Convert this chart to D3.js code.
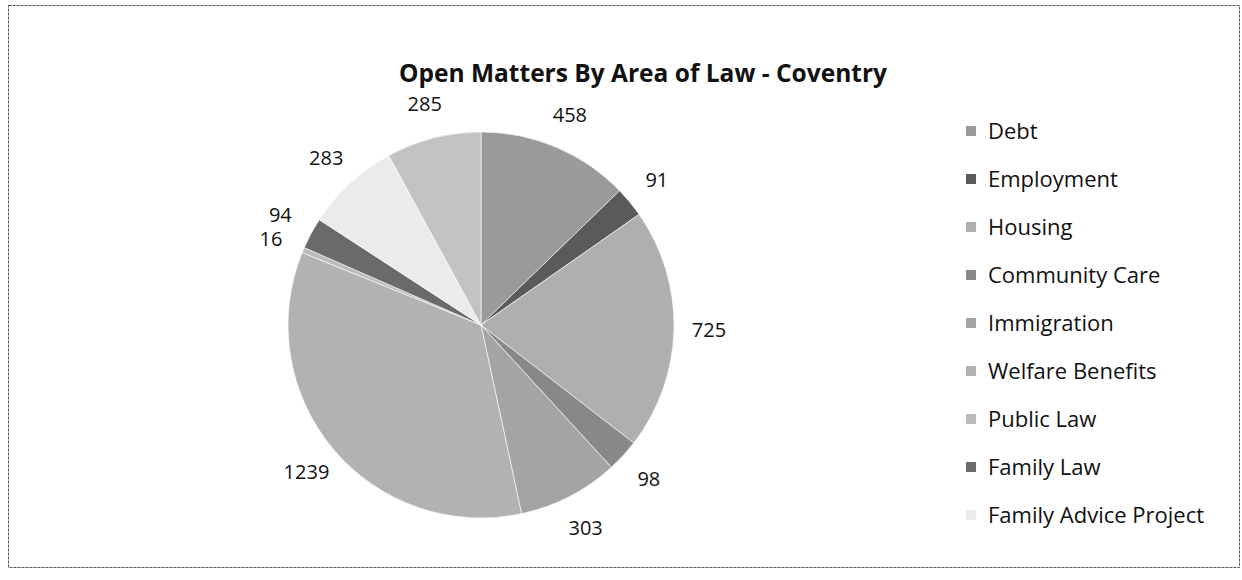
<!DOCTYPE html>
<html>
<head>
<meta charset="utf-8">
<script src="https://cdn.jsdelivr.net/npm/d3@7"></script>
<style>
  body { margin: 0; background: #fff; }
  text { font-family: "Open Sans", "Noto Sans", sans-serif; fill: #111; }
</style>
</head>
<body>
<script>
// pie of open matters, slices clockwise from 12 o'clock (Excel style)
const categories = ["Debt", "Employment", "Housing", "Community Care", "Immigration",
  "Welfare Benefits", "Public Law", "Family Law", "Family Advice Project", "Other"];
const values = [458, 91, 725, 98, 303, 1239, 16, 94, 283, 285];
const legendCount = 9; // last entry is cut off in the original legend
const greys = ["#9a9a9a", "#5a5a5a", "#afafaf", "#888888", "#a4a4a4",
  "#b2b2b2", "#bbbbbb", "#6a6a6a", "#ebebeb", "#c2c2c2"];

const width = 1242, height = 580;
const cx = 481, cy = 325, radius = 193;

const svg = d3.select("body").append("svg")
  .attr("width", width)
  .attr("height", height);

// chart frame
svg.append("rect")
  .attr("x", 8.5).attr("y", 5.5)
  .attr("width", 1231).attr("height", 562)
  .attr("fill", "none")
  .attr("stroke", "#555")
  .attr("stroke-width", 1)
  .attr("stroke-dasharray", "3 1");

svg.append("text")
  .attr("x", 643).attr("y", 82)
  .attr("text-anchor", "middle")
  .attr("font-size", "24.5px")
  .attr("font-weight", "bold")
  .text("Open Matters By Area of Law - Coventry");

const data = categories.map((c, i) => ({ name: c, value: values[i], color: greys[i] }));

const pie = d3.pie().value(d => d.value).sort(null);
const arcs = pie(data);
const arc = d3.arc().innerRadius(0).outerRadius(radius);
const labelArc = d3.arc().innerRadius(radius + 35).outerRadius(radius + 35);

const g = svg.append("g").attr("transform", `translate(${cx},${cy})`);

g.selectAll("path.slice")
  .data(arcs)
  .join("path")
  .attr("class", "slice")
  .attr("d", arc)
  .attr("fill", d => d.data.color)
  .attr("stroke", "#fff")
  .attr("stroke-width", 0.6);

// label positions, nudged apart when two small slices sit side by side
const labels = arcs.map(d => {
  const [x, y] = labelArc.centroid(d);
  return { d, x, y };
});
const minGap = 24;
for (let i = 1; i < labels.length; i++) {
  const a = labels[i - 1], b = labels[i];
  const dy = Math.abs(a.y - b.y);
  if (Math.abs(a.x - b.x) < 34 && dy < minGap) {
    const shift = (minGap - dy) / 2;
    if (a.y > b.y) { a.y += shift; b.y -= shift; } else { a.y -= shift; b.y += shift; }
  }
}

g.selectAll("text.val")
  .data(labels)
  .join("text")
  .attr("class", "val")
  .attr("x", l => l.x)
  .attr("y", l => l.y)
  .attr("text-anchor", "middle")
  .attr("dy", "0.35em")
  .attr("font-size", "20px")
  .text(l => l.d.data.value);

// legend
const legend = svg.append("g").attr("transform", "translate(966,131)");
const rows = legend.selectAll("g")
  .data(data.slice(0, legendCount))
  .join("g")
  .attr("transform", (d, i) => `translate(0,${i * 48})`);

rows.append("rect")
  .attr("x", 0).attr("y", -5)
  .attr("width", 10).attr("height", 10)
  .attr("fill", d => d.color);

rows.append("text")
  .attr("x", 22)
  .attr("dy", "0.35em")
  .attr("font-size", "22px")
  .text(d => d.name);
</script>
</body>
</html>
